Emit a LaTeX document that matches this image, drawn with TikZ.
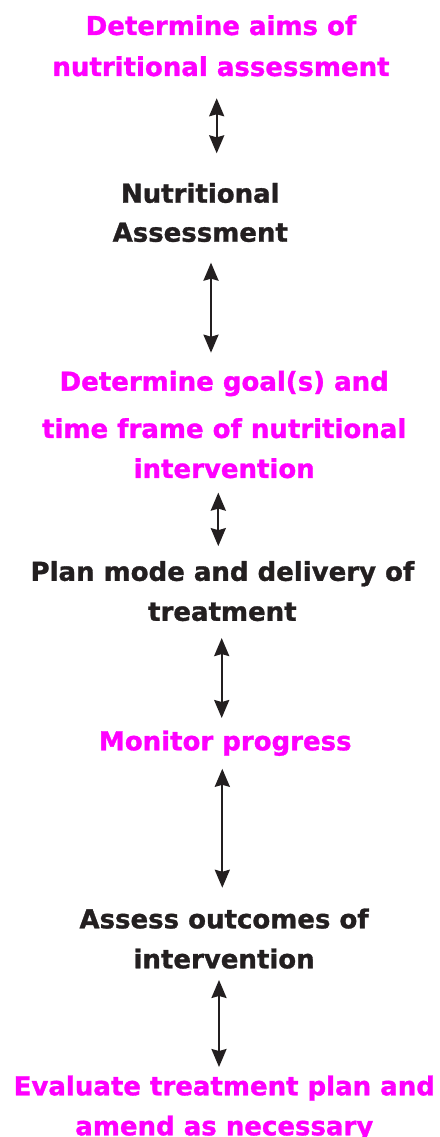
\documentclass[tikz,border=0pt]{standalone}
\usepackage{fontspec}
\setmainfont{DejaVu Sans}[BoldFeatures={FakeBold=1.2}]
\usetikzlibrary{arrows.meta}

\definecolor{stepmagenta}{RGB}{255,0,255}
\definecolor{stepdark}{RGB}{35,31,32}

\begin{document}
\begin{tikzpicture}[x=1pt,y=-1pt,
    steptext/.style={align=center, inner sep=0pt, outer sep=0pt,
        font=\fontsize{26}{40}\selectfont\bfseries},
    pink/.style={steptext, text=stepmagenta},
    dark/.style={steptext, text=stepdark},
    link/.style={{Stealth[length=18pt,width=15pt,inset=2pt]}-{Stealth[length=18pt,width=15pt,inset=2pt]},
        line width=2.3pt, stepdark}]
    \useasboundingbox (0,0) rectangle (439,1137);% keeps the page size
    \node[pink] (aims)     at (221,45.8)    {Determine aims of\\[1pt] nutritional assessment};
    \node[dark] (nutr)     at (200.3,212.5) {Nutritional\\[-1pt] Assessment};
    \node[pink] (goal)     at (224.2,424.6) {Determine goal(s) and\\[7.3pt] time frame of nutritional\\ intervention};
    \node[dark] (plan)     at (222.4,591.1) {Plan mode and delivery of\\ treatment};
    \node[pink] (monitor)  at (225.3,743.2) {Monitor progress};
    \node[dark] (outcomes) at (224.1,938.6) {Assess outcomes of\\ intervention};
    \node[pink] (evaluate) at (224.3,1108.2) {Evaluate treatment plan and\\ amend as necessary};
    % double arrows between the steps
    \draw[link, shorten <=21.9pt, shorten >=29.6pt]
        ([xshift=-4.3pt]aims.south) -- ([xshift=-4.3pt]aims.south |- nutr.north);
    \draw[link, shorten <=20.6pt, shorten >=18.2pt]
        ([xshift=10.7pt]nutr.south) -- ([xshift=10.7pt]nutr.south |- goal.north);
    \draw[link, shorten <=14.3pt, shorten >=14.9pt]
        ([xshift=-5.9pt]goal.south) -- ([xshift=-5.9pt]goal.south |- plan.north);
    \draw[link, shorten <=16.9pt, shorten >=12.5pt]
        ([xshift=-0.7pt]plan.south) -- ([xshift=-0.7pt]plan.south |- monitor.north);
    \draw[link, shorten <=12.9pt, shorten >=20.8pt]
        ([xshift=-3pt]monitor.south) -- ([xshift=-3pt]monitor.south |- outcomes.north);
    \draw[link, shorten <=11.3pt, shorten >=8.5pt]
        ([xshift=-5.1pt]outcomes.south) -- ([xshift=-5.1pt]outcomes.south |- evaluate.north);
\end{tikzpicture}
\end{document}
